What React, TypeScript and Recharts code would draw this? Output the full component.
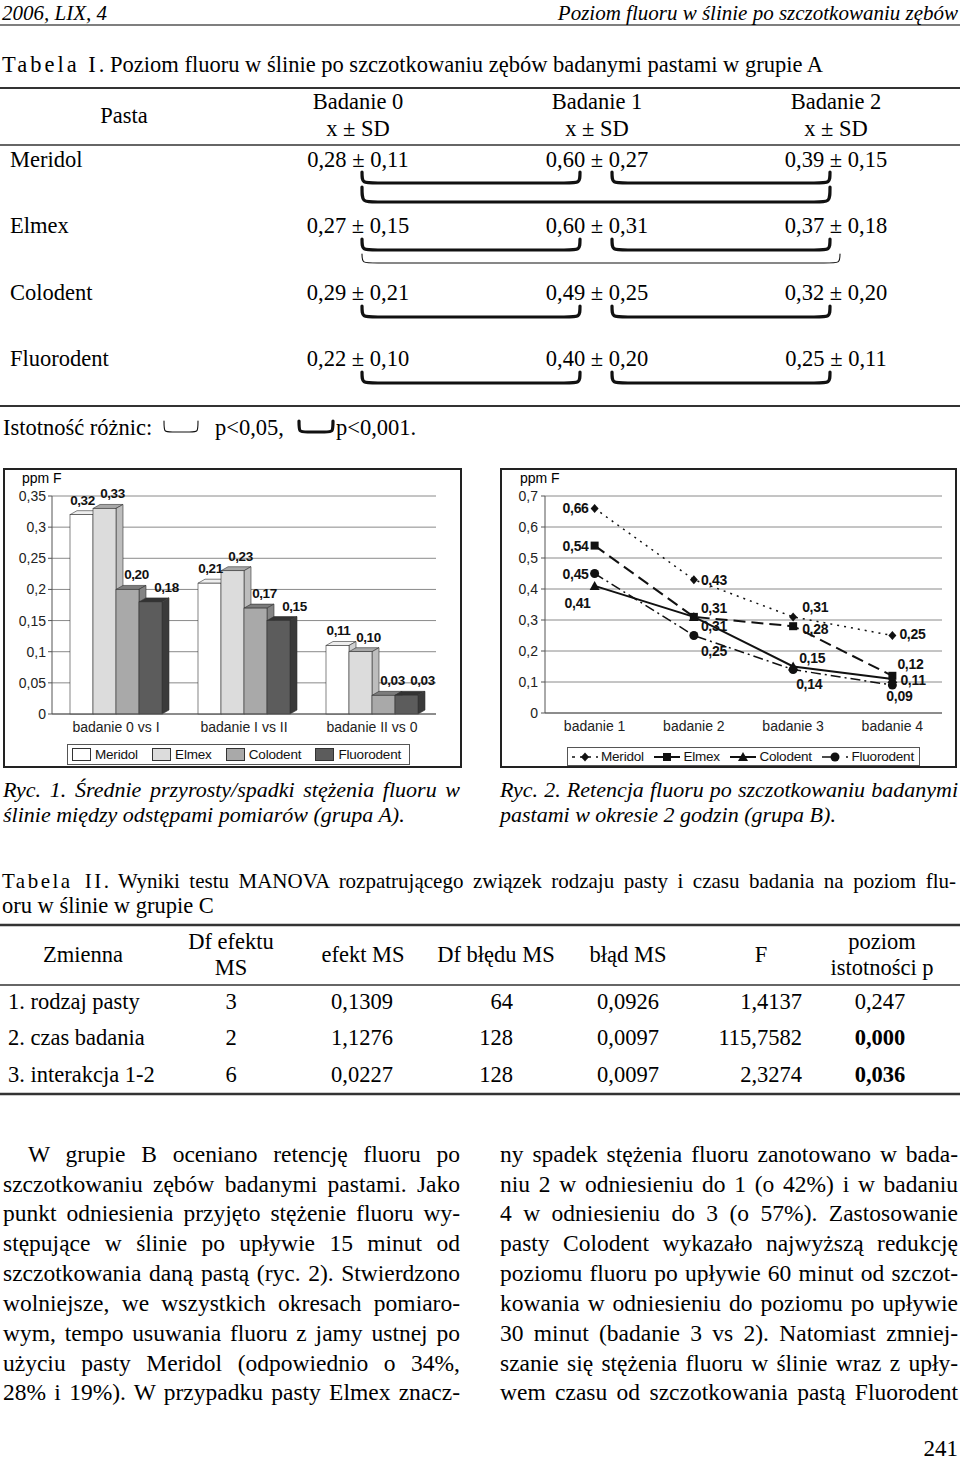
import React from "react";
import {
  BarChart,
  Bar,
  ComposedChart,
  Line,
  XAxis,
  YAxis,
  CartesianGrid,
  Legend,
  LabelList,
} from "recharts";

const SERIF = '"Liberation Serif", "Times New Roman", serif';
const SANS = '"Liberation Sans", Arial, sans-serif';

// Ryc. 1 – średnie przyrosty/spadki (grupa A)
const diffCategories = ["badanie 0 vs I", "badanie I vs II", "badanie II vs 0"];
const diffMeridol = [0.32, 0.21, 0.11];
const diffElmex = [0.33, 0.23, 0.1];
const diffColodent = [0.2, 0.17, 0.03];
const diffFluorodent = [0.18, 0.15, 0.03];
const diffTicks = [0, 0.05, 0.1, 0.15, 0.2, 0.25, 0.3, 0.35];

// Ryc. 2 – retencja fluoru (grupa B)
const retCategories = ["badanie 1", "badanie 2", "badanie 3", "badanie 4"];
const retMeridol = [0.66, 0.43, 0.31, 0.25];
const retElmex = [0.54, 0.31, 0.28, 0.12];
const retColodent = [0.41, 0.31, 0.15, 0.11];
const retFluorodent = [0.45, 0.25, 0.14, 0.09];
const retTicks = [0, 0.1, 0.2, 0.3, 0.4, 0.5, 0.6, 0.7];

const pastes = ["Meridol", "Elmex", "Colodent", "Fluorodent"];

const diffData = diffCategories.map((cat, i) => ({
  cat,
  Meridol: diffMeridol[i],
  Elmex: diffElmex[i],
  Colodent: diffColodent[i],
  Fluorodent: diffFluorodent[i],
}));

const retData = retCategories.map((cat, i) => ({
  cat,
  Meridol: retMeridol[i],
  Elmex: retElmex[i],
  Colodent: retColodent[i],
  Fluorodent: retFluorodent[i],
}));

const fmtTick = (v: number) => String(v).replace(".", ",");
const fmt2 = (v: number) => Number(v).toFixed(2).replace(".", ",");

// bar styling: front, top face, side face
const barFront = ["#ffffff", "#dcdcdc", "#a9a9a9", "#5c5c5c"];
const barTop = ["#eeeeee", "#a8a8a8", "#7c7c7c", "#333333"];
const barSide = ["#d0d0d0", "#bdbdbd", "#848484", "#3a3a3a"];
const barLabelShift = [1, 8, 9, 16];

function Bar3D(props: any) {
  const { x, y, width, height, fill, top, side } = props;
  if (!height || height <= 0) return null;
  const dx = 7;
  const dy = 4;
  return (
    <g>
      <path
        d={`M${x},${y} L${x + dx},${y - dy} L${x + width + dx},${y - dy} L${x + width},${y} Z`}
        fill={top}
        stroke="#333"
        strokeWidth={0.6}
      />
      <path
        d={`M${x + width},${y} L${x + width + dx},${y - dy} L${x + width + dx},${y + height - dy} L${x + width},${y + height} Z`}
        fill={side}
        stroke="#333"
        strokeWidth={0.6}
      />
      <rect x={x} y={y} width={width} height={height} fill={fill} stroke="#333" strokeWidth={0.6} />
    </g>
  );
}

const barLabel = (shift: number) => (p: any) => {
  const { x, y, width, value } = p;
  return (
    <text
      x={Number(x) + Number(width) / 2 + shift}
      y={Number(y) - 10}
      textAnchor="middle"
      fontFamily={SANS}
      fontWeight="bold"
      fontSize={13.5}
      letterSpacing={-0.4}
      fill="#111"
    >
      {fmt2(value)}
    </text>
  );
};

// label offsets for the line chart [dx, dy, anchor]
const lineLabelPos: Record<string, [number, number, string][]> = {
  Meridol: [[-6, 0, "end"], [7, 0, "start"], [9, -10, "start"], [7, -2, "start"]],
  Elmex: [[-6, 0, "end"], [7, -9, "start"], [9, 3, "start"], [5, -12, "start"]],
  Colodent: [[-4, 17, "end"], [7, 9, "start"], [6, -9, "start"], [8, 1, "start"]],
  Fluorodent: [[-6, 0, "end"], [7, 15, "start"], [3, 14, "start"], [7, 11, "middle"]],
};

const lineLabel = (name: string) => (p: any) => {
  const { x, y, value, index } = p;
  const [dx, dy, anchor] = lineLabelPos[name][index] || [6, 0, "start"];
  return (
    <text
      x={Number(x) + dx}
      y={Number(y) + dy + 5}
      textAnchor={anchor as any}
      fontFamily={SANS}
      fontWeight="bold"
      fontSize={14}
      letterSpacing={-0.3}
      fill="#111"
    >
      {fmt2(value)}
    </text>
  );
};

function Marker({ kind, cx, cy }: { kind: string; cx: number; cy: number }) {
  if (kind === "diamond")
    return <path d={`M${cx},${cy - 4.5} L${cx + 4},${cy} L${cx},${cy + 4.5} L${cx - 4},${cy} Z`} fill="#111" />;
  if (kind === "square") return <rect x={cx - 4} y={cy - 4} width={8} height={8} fill="#111" />;
  if (kind === "triangle")
    return <path d={`M${cx},${cy - 5} L${cx + 5},${cy + 4} L${cx - 5},${cy + 4} Z`} fill="#111" />;
  return <circle cx={cx} cy={cy} r={4.5} fill="#111" />;
}

const markers = ["diamond", "square", "triangle", "circle"];
const dashes = ["2 5", "12 6", "", "10 4 2 4"];
const widths = [1.5, 2, 2, 1.5];

const dotFor = (kind: string) => (p: any) =>
  <Marker key={`${kind}-${p.index}`} kind={kind} cx={p.cx} cy={p.cy} />;

function orderPayload(payload: any[] = []) {
  return pastes.map((n) => payload.find((e) => e.value === n)).filter(Boolean);
}

const barLegend = (props: any) => {
  const items = orderPayload(props.payload);
  return (
    <div style={{ height: 32, position: "relative" }}>
      <div
        style={{
          position: "absolute",
          left: 62,
          top: 10,
          width: 343,
          height: 21,
          border: "1px solid #555",
          boxSizing: "border-box",
          display: "flex",
          alignItems: "center",
          justifyContent: "space-between",
          padding: "0 8px 0 4px",
          fontFamily: SANS,
          fontSize: 13.5,
          letterSpacing: -0.2,
          color: "#111",
        }}
      >
        {items.map((e: any) => (
          <span key={e.value} style={{ display: "flex", alignItems: "center" }}>
            <span
              style={{
                width: 17,
                height: 11,
                background: e.color,
                border: "1px solid #333",
                marginRight: 4,
              }}
            />
            {e.value}
          </span>
        ))}
      </div>
    </div>
  );
};

const lineLegend = (props: any) => {
  const items = orderPayload(props.payload);
  return (
    <div style={{ height: 33, position: "relative" }}>
      <div
        style={{
          position: "absolute",
          left: 65,
          top: 14,
          width: 353,
          height: 19,
          border: "1px solid #555",
          boxSizing: "border-box",
          display: "flex",
          alignItems: "center",
          justifyContent: "space-between",
          padding: "0 5px 0 3px",
          fontFamily: SANS,
          fontSize: 13.5,
          letterSpacing: -0.2,
          color: "#111",
        }}
      >
        {items.map((e: any) => {
          const i = pastes.indexOf(e.value);
          return (
            <span key={e.value} style={{ display: "flex", alignItems: "center" }}>
              <svg width={28} height={14} style={{ marginRight: 2 }}>
                <line
                  x1={1}
                  y1={7}
                  x2={27}
                  y2={7}
                  stroke="#111"
                  strokeWidth={widths[i]}
                  strokeDasharray={i === 0 ? "3 5" : i === 3 ? "10 14 3 4" : ""}
                />
                <Marker kind={markers[i]} cx={14} cy={7} />
              </svg>
              {e.value}
            </span>
          );
        })}
      </div>
    </div>
  );
};

function DiffChart() {
  return (
    <div
      style={{
        position: "absolute",
        left: 3,
        top: 468,
        width: 459,
        height: 300,
        border: "2px solid #222",
        boxSizing: "border-box",
        background: "#fff",
      }}
    >
      <div style={{ position: "absolute", left: 17, top: 0, fontFamily: SANS, fontSize: 14, lineHeight: "16px" }}>
        ppm F
      </div>
      <BarChart
        width={455}
        height={296}
        data={diffData}
        margin={{ top: 26, right: 24, bottom: 0, left: 0 }}
        barGap={0}
        barCategoryGap={18}
      >
        <CartesianGrid yAxisId="l" vertical={false} stroke="#8a8a8a" />
        <XAxis
          dataKey="cat"
          height={20}
          interval={0}
          tickLine={false}
          axisLine={{ stroke: "#555" }}
          tick={{ fontSize: 14, fill: "#222", fontFamily: SANS }}
        />
        <YAxis
          yAxisId="l"
          width={47}
          domain={[0, 0.35]}
          ticks={diffTicks}
          interval={0}
          tickFormatter={fmtTick}
          tickSize={4}
          tickMargin={2}
          axisLine={{ stroke: "#555" }}
          tickLine={{ stroke: "#555" }}
          tick={{ fontSize: 14, fill: "#222", fontFamily: SANS }}
        />
        <YAxis
          yAxisId="r"
          orientation="right"
          width={0}
          domain={[0, 0.35]}
          tick={false}
          tickLine={false}
          axisLine={{ stroke: "#8a8a8a" }}
        />
        <Legend verticalAlign="bottom" content={barLegend} />
        {pastes.map((name, i) => (
          <Bar
            key={name}
            yAxisId="l"
            dataKey={name}
            name={name}
            fill={barFront[i]}
            isAnimationActive={false}
            shape={(p: any) => <Bar3D {...p} fill={barFront[i]} top={barTop[i]} side={barSide[i]} />}
          >
            <LabelList dataKey={name} content={barLabel(barLabelShift[i])} />
          </Bar>
        ))}
      </BarChart>
    </div>
  );
}

function RetChart() {
  return (
    <div
      style={{
        position: "absolute",
        left: 500,
        top: 468,
        width: 457,
        height: 300,
        border: "2px solid #222",
        boxSizing: "border-box",
        background: "#fff",
      }}
    >
      <div style={{ position: "absolute", left: 18, top: 0, fontFamily: SANS, fontSize: 14, lineHeight: "16px" }}>
        ppm F
      </div>
      <ComposedChart
        width={453}
        height={296}
        data={retData}
        margin={{ top: 26, right: 13, bottom: 0, left: 0 }}
      >
        <CartesianGrid yAxisId="l" vertical={false} stroke="#8a8a8a" />
        <XAxis
          dataKey="cat"
          scale="band"
          height={20}
          interval={0}
          tickLine={false}
          axisLine={{ stroke: "#555" }}
          tick={{ fontSize: 14, fill: "#222", fontFamily: SANS }}
        />
        <YAxis
          yAxisId="l"
          width={43}
          domain={[0, 0.7]}
          ticks={retTicks}
          interval={0}
          tickFormatter={fmtTick}
          tickSize={4}
          tickMargin={3}
          axisLine={{ stroke: "#555" }}
          tickLine={{ stroke: "#555" }}
          tick={{ fontSize: 14, fill: "#222", fontFamily: SANS }}
        />
        <YAxis
          yAxisId="r"
          orientation="right"
          width={0}
          domain={[0, 0.7]}
          tick={false}
          tickLine={false}
          axisLine={{ stroke: "#8a8a8a" }}
        />
        <Legend verticalAlign="bottom" content={lineLegend} />
        {pastes.map((name, i) => (
          <Line
            key={name}
            yAxisId="l"
            dataKey={name}
            name={name}
            type="linear"
            stroke="#111"
            strokeWidth={widths[i]}
            strokeDasharray={dashes[i] || undefined}
            dot={dotFor(markers[i])}
            activeDot={false}
            isAnimationActive={false}
          >
            <LabelList dataKey={name} content={lineLabel(name)} />
          </Line>
        ))}
      </ComposedChart>
    </div>
  );
}

type TxtProps = {
  x: number;
  y: number;
  w?: number;
  size?: number;
  align?: "left" | "right" | "center";
  italic?: boolean;
  bold?: boolean;
  justify?: boolean;
  children: React.ReactNode;
};

function Txt({ x, y, w = 400, size = 22.5, align = "left", italic, bold, justify, children }: TxtProps) {
  return (
    <div
      style={{
        position: "absolute",
        left: x,
        top: y - size * 0.55,
        width: w,
        fontSize: size,
        lineHeight: `${size + 2}px`,
        whiteSpace: "nowrap",
        textAlign: justify ? "justify" : align,
        textAlignLast: justify ? "justify" : (align as any),
        fontStyle: italic ? "italic" : "normal",
        fontWeight: bold ? "bold" : "normal",
      }}
    >
      {children}
    </div>
  );
}

function Brace({ x1, x2, y1, y2, thick }: { x1: number; x2: number; y1: number; y2: number; thick?: boolean }) {
  const r = Math.min(16, (x2 - x1) / 4);
  return (
    <path
      d={`M${x1},${y1} C${x1},${y2} ${x1},${y2} ${x1 + r},${y2} L${x2 - r},${y2} C${x2},${y2} ${x2},${y2} ${x2},${y1}`}
      fill="none"
      stroke="#111"
      strokeWidth={thick ? 3.2 : 1.1}
      strokeLinecap="round"
    />
  );
}

const tab1Rows = [
  { name: "Meridol", vals: ["0,28 ± 0,11", "0,60 ± 0,27", "0,39 ± 0,15"], y: 160 },
  { name: "Elmex", vals: ["0,27 ± 0,15", "0,60 ± 0,31", "0,37 ± 0,18"], y: 226 },
  { name: "Colodent", vals: ["0,29 ± 0,21", "0,49 ± 0,25", "0,32 ± 0,20"], y: 293 },
  { name: "Fluorodent", vals: ["0,22 ± 0,10", "0,40 ± 0,20", "0,25 ± 0,11"], y: 359 },
];
const tab1Cols = [358, 597, 836];

const tab2Rows = [
  ["1. rodzaj pasty", "3", "0,1309", "64", "0,0926", "1,4137", "0,247"],
  ["2. czas badania", "2", "1,1276", "128", "0,0097", "115,7582", "0,000"],
  ["3. interakcja 1-2", "6", "0,0227", "128", "0,0097", "2,3274", "0,036"],
];
const tab2RowY = [1002, 1038, 1075];

const leftLines = [
  "W grupie B oceniano retencję fluoru po",
  "szczotkowaniu zębów badanymi pastami. Jako",
  "punkt odniesienia przyjęto stężenie fluoru wy-",
  "stępujące w ślinie po upływie 15 minut od",
  "szczotkowania daną pastą (ryc. 2). Stwierdzono",
  "wolniejsze, we wszystkich okresach pomiaro-",
  "wym, tempo usuwania fluoru z jamy ustnej po",
  "użyciu pasty Meridol (odpowiednio o 34%,",
  "28% i 19%). W przypadku pasty Elmex znacz-",
];
const rightLines = [
  "ny spadek stężenia fluoru zanotowano w bada-",
  "niu 2 w odniesieniu do 1 (o 42%) i w badaniu",
  "4 w odniesieniu do 3 (o 57%). Zastosowanie",
  "pasty Colodent wykazało najwyższą redukcję",
  "poziomu fluoru po upływie 60 minut od szczot-",
  "kowania w odniesieniu do poziomu po upływie",
  "30 minut (badanie 3 vs 2). Natomiast zmniej-",
  "szanie się stężenia fluoru w ślinie wraz z upły-",
  "wem czasu od szczotkowania pastą Fluorodent",
];
const bodyY = [1155, 1185, 1214, 1244, 1274, 1304, 1334, 1364, 1393];

export default function App() {
  return (
    <div
      style={{
        position: "absolute",
        left: 0,
        top: 0,
        width: 960,
        height: 1465,
        background: "#fff",
        overflow: "hidden",
        fontFamily: SERIF,
        color: "#000",
      }}
    >
      <svg width={960} height={1465} style={{ position: "absolute", left: 0, top: 0 }}>
        <line x1={0} y1={25} x2={960} y2={25} stroke="#555" strokeWidth={1.5} />
        <line x1={0} y1={88} x2={960} y2={88} stroke="#333" strokeWidth={2} />
        <line x1={0} y1={145} x2={960} y2={145} stroke="#333" strokeWidth={1.5} />
        <line x1={0} y1={406} x2={960} y2={406} stroke="#333" strokeWidth={2} />
        <line x1={0} y1={925} x2={960} y2={925} stroke="#333" strokeWidth={2.5} />
        <line x1={0} y1={985} x2={960} y2={985} stroke="#333" strokeWidth={1.5} />
        <line x1={0} y1={1094} x2={960} y2={1094} stroke="#333" strokeWidth={2.5} />
        {/* Meridol */}
        <Brace x1={362} x2={580} y1={172} y2={183} thick />
        <Brace x1={612} x2={830} y1={172} y2={183} thick />
        <Brace x1={362} x2={830} y1={187} y2={202} thick />
        {/* Elmex */}
        <Brace x1={362} x2={580} y1={239} y2={250} thick />
        <Brace x1={612} x2={830} y1={239} y2={250} thick />
        <Brace x1={362} x2={840} y1={254} y2={263} />
        {/* Colodent */}
        <Brace x1={362} x2={580} y1={306} y2={317} thick />
        <Brace x1={612} x2={830} y1={306} y2={317} thick />
        {/* Fluorodent */}
        <Brace x1={362} x2={580} y1={372} y2={383} thick />
        <Brace x1={612} x2={830} y1={372} y2={383} thick />
        {/* legend of significance */}
        <Brace x1={164} x2={198} y1={421} y2={432} />
        <Brace x1={299} x2={333} y1={421} y2={432} thick />
      </svg>

      <Txt x={2} y={13.5} size={21} italic>2006, LIX, 4</Txt>
      <Txt x={458} y={13.5} w={500} size={21} italic align="right">
        Poziom fluoru w ślinie po szczotkowaniu zębów
      </Txt>

      <Txt x={2} y={65}>
        <span style={{ letterSpacing: 3 }}>Tabela I</span>. Poziom fluoru w ślinie po szczotkowaniu zębów badanymi pastami w grupie A
      </Txt>
      <Txt x={24} y={116} w={200} align="center">Pasta</Txt>
      {["Badanie 0", "Badanie 1", "Badanie 2"].map((b, i) => (
        <React.Fragment key={b}>
          <Txt x={tab1Cols[i] - 100} y={102} w={200} align="center">{b}</Txt>
          <Txt x={tab1Cols[i] - 100} y={129} w={200} align="center">x ± SD</Txt>
        </React.Fragment>
      ))}
      {tab1Rows.map((r) => (
        <React.Fragment key={r.name}>
          <Txt x={10} y={r.y}>{r.name}</Txt>
          {r.vals.map((v, i) => (
            <Txt key={i} x={tab1Cols[i] - 100} y={r.y} w={200} align="center">{v}</Txt>
          ))}
        </React.Fragment>
      ))}
      <Txt x={3} y={428}>Istotność różnic:</Txt>
      <Txt x={215} y={428}>p&lt;0,05,</Txt>
      <Txt x={336} y={428}>p&lt;0,001.</Txt>

      <DiffChart />
      <RetChart />

      <Txt x={3} y={790} w={457} size={22} italic justify>Ryc. 1. Średnie przyrosty/spadki stężenia fluoru w</Txt>
      <Txt x={3} y={815} size={22} italic>ślinie między odstępami pomiarów (grupa A).</Txt>
      <Txt x={500} y={790} w={458} size={22} italic justify>Ryc. 2. Retencja fluoru po szczotkowaniu badanymi</Txt>
      <Txt x={500} y={815} size={22} italic>pastami w okresie 2 godzin (grupa B).</Txt>

      <Txt x={2} y={882} w={954} size={21} justify>
        <span style={{ letterSpacing: 2.5 }}>Tabela II</span>. Wyniki testu MANOVA rozpatrującego związek rodzaju pasty i czasu badania na poziom flu-
      </Txt>
      <Txt x={2} y={906}>oru w ślinie w grupie C</Txt>

      <Txt x={-17} y={955} w={200} align="center">Zmienna</Txt>
      <Txt x={131} y={942} w={200} align="center">Df efektu</Txt>
      <Txt x={131} y={968} w={200} align="center">MS</Txt>
      <Txt x={263} y={955} w={200} align="center">efekt MS</Txt>
      <Txt x={396} y={955} w={200} align="center">Df błędu MS</Txt>
      <Txt x={528} y={955} w={200} align="center">błąd MS</Txt>
      <Txt x={661} y={955} w={200} align="center">F</Txt>
      <Txt x={782} y={942} w={200} align="center">poziom</Txt>
      <Txt x={782} y={968} w={200} align="center">istotności p</Txt>
      {tab2Rows.map((r, k) => (
        <React.Fragment key={k}>
          <Txt x={8} y={tab2RowY[k]}>{r[0]}</Txt>
          <Txt x={131} y={tab2RowY[k]} w={200} align="center">{r[1]}</Txt>
          <Txt x={262} y={tab2RowY[k]} w={200} align="center">{r[2]}</Txt>
          <Txt x={313} y={tab2RowY[k]} w={200} align="right">{r[3]}</Txt>
          <Txt x={528} y={tab2RowY[k]} w={200} align="center">{r[4]}</Txt>
          <Txt x={602} y={tab2RowY[k]} w={200} align="right">{r[5]}</Txt>
          <Txt x={780} y={tab2RowY[k]} w={200} align="center" bold={k > 0}>{r[6]}</Txt>
        </React.Fragment>
      ))}

      {leftLines.map((l, i) => (
        <Txt key={i} x={i === 0 ? 28 : 3} y={bodyY[i]} w={i === 0 ? 432 : 457} size={23.5} justify>{l}</Txt>
      ))}
      {rightLines.map((l, i) => (
        <Txt key={i} x={500} y={bodyY[i]} w={458} size={23.5} justify>{l}</Txt>
      ))}
      <Txt x={758} y={1449} w={200} size={23} align="right">241</Txt>
    </div>
  );
}
